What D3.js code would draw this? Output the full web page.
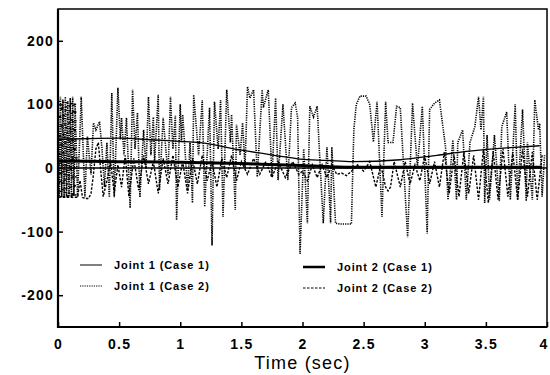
<!DOCTYPE html>
<html>
<head>
<meta charset="utf-8">
<script src="https://cdn.jsdelivr.net/npm/d3@7"></script>
<style>
  body { margin: 0; background: #fff; }
  svg { display: block; }
  .tick text { font-family: "Liberation Sans", Arial, sans-serif; font-weight: bold; font-size: 14px; letter-spacing: 1.2px; fill: #000; }
  .tick line { stroke: #000; stroke-width: 1.5; }
  .legend text { font-family: "Liberation Sans", Arial, sans-serif; font-weight: bold; font-size: 11px; letter-spacing: 0.9px; }
</style>
</head>
<body>
<svg id="chart" width="550" height="375"></svg>
<script>
// tick labels
const xTicks = [0, 0.5, 1, 1.5, 2, 2.5, 3, 3.5, 4];
const yTicks = [200, 100, 0, -100, -200];

// Joint 1 (Case 1): thin solid
const j1c1Time = [0, 0.2, 0.5, 0.8, 1.0, 1.16, 1.5, 1.84, 1.98, 2.2, 2.41, 2.8, 3.1, 3.34, 3.7, 3.94];
const j1c1Value = [45, 46, 47, 44, 42, 40, 28, 18, 14, 12, 10, 13, 20, 26, 32, 35];

// Joint 2 (Case 1): thick solid
const j2c1Time = [0, 0.5, 1.0, 1.5, 2.0, 2.4, 3.0, 3.5, 3.96];
const j2c1Value = [11, 10, 9, 7, 4, 1, 1, 1, 1];

// Joint 1 (Case 2): dotted
const j1c2Time = [0.00, 0.01, 0.02, 0.03, 0.04, 0.05, 0.06, 0.07, 0.08, 0.09, 0.10, 0.11, 0.12, 0.13, 0.14,
  0.16, 0.19, 0.22, 0.24, 0.27, 0.29, 0.31, 0.34, 0.36, 0.38, 0.40, 0.42, 0.44, 0.46, 0.49, 0.51, 0.52, 0.54,
  0.56, 0.59, 0.61, 0.63, 0.65, 0.67, 0.70, 0.72, 0.74, 0.76, 0.78, 0.79, 0.82, 0.83, 0.86, 0.90, 0.92, 0.94,
  0.96, 0.97, 1.00, 1.01, 1.02, 1.06, 1.08, 1.10, 1.11, 1.15, 1.18, 1.20, 1.23, 1.24, 1.26, 1.28, 1.31, 1.33,
  1.35, 1.38, 1.41, 1.42, 1.45, 1.46, 1.49, 1.51, 1.53, 1.55, 1.57, 1.60, 1.63, 1.67, 1.68, 1.72, 1.75, 1.78,
  1.80, 1.84, 1.88, 1.91, 1.94, 1.96, 1.98, 2.01, 2.04, 2.06, 2.09, 2.12, 2.14, 2.17, 2.20, 2.23, 2.24, 2.27,
  2.31, 2.40, 2.42, 2.44, 2.47, 2.52, 2.55, 2.58, 2.61, 2.65, 2.68, 2.70, 2.74, 2.77, 2.80, 2.86, 2.90, 2.94,
  2.98, 3.02, 3.04, 3.08, 3.12, 3.17, 3.19, 3.23, 3.26, 3.27, 3.31, 3.34, 3.37, 3.41, 3.44, 3.46, 3.48, 3.49,
  3.51, 3.53, 3.57, 3.61, 3.63, 3.67, 3.70, 3.74, 3.76, 3.80, 3.83, 3.84, 3.88, 3.90, 3.93, 3.94, 3.96, 3.98];
const j1c2Value = [110, -45, 112, -46, 108, -44, 112, -46, 105, -45, 110, -46, 112, -44, 100,
  -46, 112, -46, 50, -10, 71, 60, 73, 30, -30, 40, -46, 118, -46, 126, 45, 79, 20,
  79, -63, 123, 30, 87, -46, 60, 0, 112, 20, 80, 10, 115, -35, 79, -11, 112, 30,
  82, -82, 100, 40, 84, -35, 40, -55, 115, 20, 107, -61, 60, 95, -122, 104, 30, 107,
  -77, 123, 40, 84, -66, 68, 20, 71, 0, 128, 110, 123, -14, 123, 95, 123, -14, 110,
  -19, 100, -19, 95, 102, 80, -135, 30, -87, 97, 80, 97, 20, -87, 33, -87, 33, -87,
  -88, -88, 60, 100, 113, 113, 100, 41, 104, -77, 104, 40, 40, 97, 95, -109, 102, 0,
  97, -103, 92, 102, 107, 33, -50, 44, -50, 40, 60, -50, 40, 65, 112, 60, 112, -55,
  52, -50, 52, -52, 65, 88, -50, 100, -50, 92, -52, 40, -50, 107, 60, 70, -45, 20];

// Joint 2 (Case 2): dashed
const j2c2Time = [0.00, 0.15, 0.00, 0.15, 0.00, 0.15, 0.00, 0.15, 0.00, 0.15, 0.00, 0.15, 0.00, 0.15, 0.00, 0.15,
  0.00, 0.15, 0.00, 0.15, 0.00, 0.15, 0.00,
  0.16, 0.18, 0.20, 0.22, 0.25, 0.27, 0.29, 0.31, 0.33, 0.35, 0.37, 0.40, 0.43, 0.46, 0.49, 0.52, 0.55, 0.58,
  0.62, 0.66, 0.70, 0.74, 0.78, 0.82, 0.86, 0.90, 0.94, 0.98, 1.02, 1.06, 1.10, 1.14, 1.18, 1.22, 1.26, 1.30,
  1.34, 1.38, 1.42, 1.46, 1.50, 1.55, 1.60, 1.65, 1.70, 1.75, 1.80, 1.86, 1.92, 1.97, 2.00, 2.04, 2.08, 2.12,
  2.16, 2.20, 2.24, 2.28, 2.32, 2.36, 2.40, 2.45, 2.50, 2.55, 2.60, 2.64, 2.68, 2.70, 2.72, 2.75, 2.80, 2.84,
  2.88, 2.92, 2.96, 3.00, 3.04, 3.08, 3.12, 3.16, 3.20, 3.24, 3.28, 3.32, 3.36, 3.40, 3.44, 3.48, 3.52, 3.56,
  3.60, 3.64, 3.68, 3.72, 3.76, 3.80, 3.84, 3.88, 3.92, 3.96];
const j2c2Value = [105, 100, 93, 88, 80, 74, 66, 60, 50, 44, 36, 30, 22, 16, 6, 0,
  -8, -14, -22, -28, -36, -42, -46,
  -46, -20, -46, -48, -48, -40, -10, 30, 40, -5, -45, -20, 10, -40, 5, -30, 20, -45,
  15, -35, 20, -25, 10, -40, 15, -25, 20, -30, 10, -40, 15, -25, 20, -20, 10, -30,
  15, -15, 20, -20, 10, -10, 15, -10, 10, -15, 10, -15, 10, -10, -5, -20, 5, -15,
  5, -15, 5, -10, -8, -12, -5, 5, -5, 10, -30, 5, -30, -36, -30, 10, -30, 10,
  -25, 5, -20, 20, -25, 10, -30, 25, -40, 20, -45, 25, -40, 20, -50, 30, -55, 25,
  -50, 30, -45, 25, -50, 30, -45, 25, -50, 20];

const legendLabels = ['Joint 1 (Case 1)', 'Joint 1 (Case 2)', 'Joint 2 (Case 1)', 'Joint 2 (Case 2)'];

const width = 550, height = 375;
const margin = { top: 9, right: 3, bottom: 48, left: 58 };

const svg = d3.select('#chart');

const xScale = d3.scaleLinear().domain([0, 4]).range([margin.left, width - margin.right]);
const yScale = d3.scaleLinear().domain([-250, 250]).range([height - margin.bottom, margin.top]);

// clip to plot area
svg.append('defs').append('clipPath').attr('id', 'plot')
  .append('rect')
  .attr('x', margin.left).attr('y', margin.top)
  .attr('width', width - margin.left - margin.right)
  .attr('height', height - margin.top - margin.bottom);

const zip = (t, v) => t.map((d, i) => [d, v[i]]);
const line = d3.line().x(d => xScale(d[0])).y(d => yScale(d[1]));
const smooth = d3.line().x(d => xScale(d[0])).y(d => yScale(d[1])).curve(d3.curveMonotoneX);

const series = [
  { data: zip(j1c2Time, j1c2Value), gen: line, width: 1.6, dash: '1.2,1.1' },
  { data: zip(j2c2Time, j2c2Value), gen: line, width: 1.4, dash: '2.5,1.5' },
  { data: zip(j1c1Time, j1c1Value), gen: smooth, width: 1.3, dash: null },
  { data: zip(j2c1Time, j2c1Value), gen: smooth, width: 3, dash: null }
];

const plot = svg.append('g').attr('clip-path', 'url(#plot)');

// zero reference line
plot.append('line')
  .attr('x1', xScale(0)).attr('x2', xScale(4))
  .attr('y1', yScale(0)).attr('y2', yScale(0))
  .attr('stroke', '#000').attr('stroke-width', 1.6);

series.forEach(s => {
  plot.append('path')
    .attr('d', s.gen(s.data))
    .attr('fill', 'none')
    .attr('stroke', '#000')
    .attr('stroke-width', s.width)
    .attr('stroke-dasharray', s.dash);
});

// axes with inward ticks
const xAxis = d3.axisBottom(xScale).tickValues(xTicks).tickSizeInner(-5).tickSizeOuter(0).tickPadding(12)
  .tickFormat(d3.format('~g'));
const yAxis = d3.axisLeft(yScale).tickValues(yTicks).tickSizeInner(-5).tickSizeOuter(0).tickPadding(4)
  .tickFormat(d => d < 0 ? '-' + Math.abs(d) : d);

const gx = svg.append('g').attr('transform', `translate(0, ${height - margin.bottom})`).call(xAxis);
const gy = svg.append('g').attr('transform', `translate(${margin.left}, 0)`).call(yAxis);
gx.select('.domain').remove();
gy.select('.domain').remove();
// last x label sits at the window edge; keep it inside
gx.selectAll('.tick text').filter(d => d === 4).attr('text-anchor', 'end').attr('dx', '1');

// frame
svg.append('rect')
  .attr('x', margin.left).attr('y', margin.top)
  .attr('width', width - margin.left - margin.right)
  .attr('height', height - margin.top - margin.bottom)
  .attr('fill', 'none').attr('stroke', '#000').attr('stroke-width', 1.5);
svg.append('path')
  .attr('d', `M${margin.left},${margin.top}V${height - margin.bottom}H${width - margin.right}`)
  .attr('fill', 'none').attr('stroke', '#000').attr('stroke-width', 2.2);

// x label
svg.append('text')
  .attr('x', xScale(2)).attr('y', 369)
  .attr('text-anchor', 'middle')
  .style('font-family', '"Liberation Sans", Arial, sans-serif')
  .style('font-size', '18px')
  .style('letter-spacing', '1.2px')
  .text('Time (sec)');

// legend
const legendPos = [[80, 265], [80, 286], [303, 267], [303, 288]];
const legend = svg.append('g').attr('class', 'legend');
legendLabels.forEach((label, i) => {
  const s = series[[2, 0, 3, 1][i]];
  const [lx, ly] = legendPos[i];
  legend.append('line')
    .attr('x1', lx).attr('x2', lx + 22).attr('y1', ly).attr('y2', ly)
    .attr('stroke', '#000')
    .attr('stroke-width', i === 2 ? 2.5 : 1)
    .attr('stroke-dasharray', s.dash);
  legend.append('text')
    .attr('x', lx + 34).attr('y', ly + 4)
    .text(label);
});
</script>
</body>
</html>
